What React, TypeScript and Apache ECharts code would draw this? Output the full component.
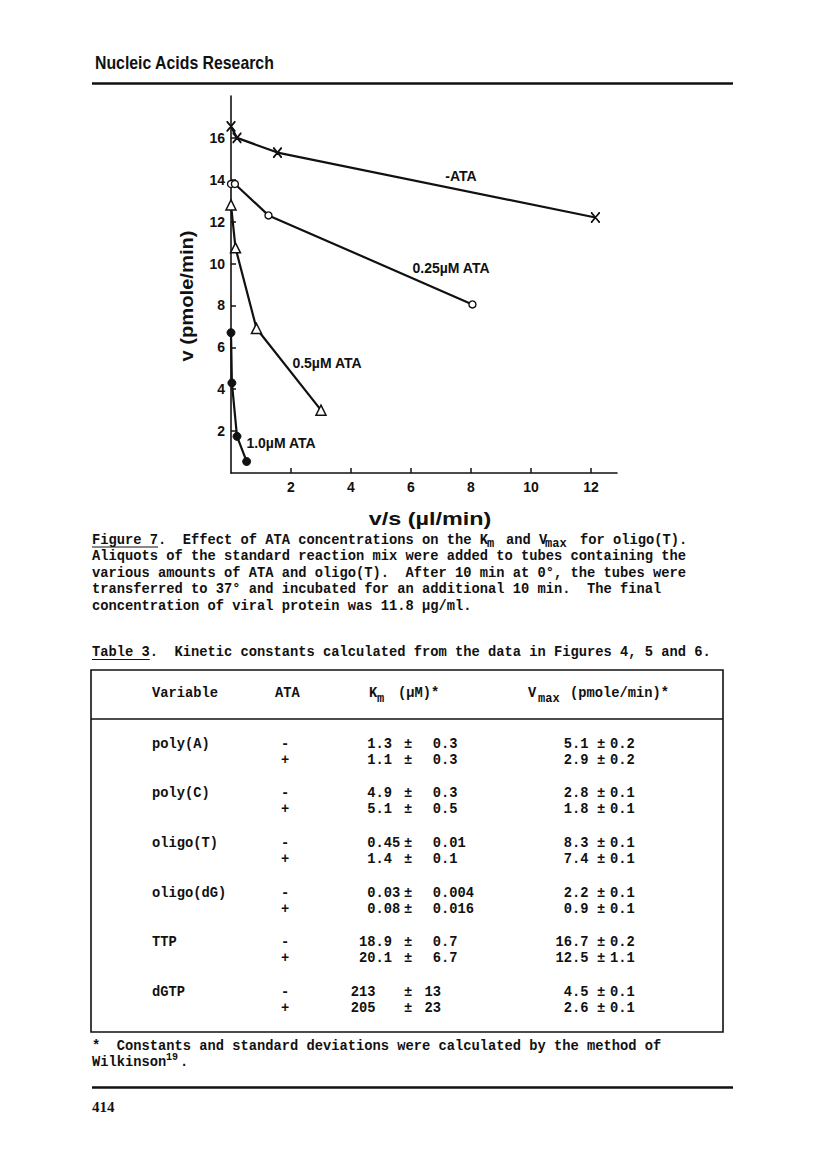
import React, { useEffect, useRef } from "react";
import * as echarts from "echarts";

// ---------- Figure 7 data (x = v/s in µl/min, y = v in pmole/min) ----------
const minusAta: number[][] = [[0.0, 16.55], [0.2, 16.0], [1.55, 15.3], [12.15, 12.2]];
const ata025: number[][] = [[0.0, 13.8], [0.13, 13.8], [1.25, 12.3], [8.05, 8.05]];
const ata05: number[][] = [[0.0, 12.8], [0.15, 10.75], [0.85, 6.9], [3.0, 3.0]];
const ata10: number[][] = [[0.0, 6.7], [0.03, 4.3], [0.2, 1.75], [0.52, 0.55]];

const xTicks = [2, 4, 6, 8, 10, 12];
const yTicks = [2, 4, 6, 8, 10, 12, 14, 16];

const seriesLabels = ["-ATA", "0.25µM ATA", "0.5µM ATA", "1.0µM ATA"];

// ---------- Table 3 data ----------
const variables = ["poly(A)", "poly(C)", "oligo(T)", "oligo(dG)", "TTP", "dGTP"];
const kmMinus = ["1.3", "4.9", "0.45", "0.03", "18.9", "213"];
const kmMinusErr = ["0.3", "0.3", "0.01", "0.004", "0.7", "13"];
const kmPlus = ["1.1", "5.1", "1.4", "0.08", "20.1", "205"];
const kmPlusErr = ["0.3", "0.5", "0.1", "0.016", "6.7", "23"];
const vmaxMinus = ["5.1", "2.8", "8.3", "2.2", "16.7", "4.5"];
const vmaxMinusErr = ["0.2", "0.1", "0.1", "0.1", "0.2", "0.1"];
const vmaxPlus = ["2.9", "1.8", "7.4", "0.9", "12.5", "2.6"];
const vmaxPlusErr = ["0.2", "0.1", "0.1", "0.1", "1.1", "0.1"];

const captionLines = [
  "Aliquots of the standard reaction mix were added to tubes containing the",
  "various amounts of ATA and oligo(T).  After 10 min at 0°, the tubes were",
  "transferred to 37° and incubated for an additional 10 min.  The final",
  "concentration of viral protein was 11.8 µg/ml.",
];

const MONO = '"Liberation Mono", "DejaVu Sans Mono", monospace';
const SANS = '"Liberation Sans", Arial, sans-serif';
const SERIF = '"Liberation Serif", serif';
const FS = 13.75;
const CW = FS * 0.6;

function txt(x: number, y: number, text: string, o: any = {}) {
  return {
    type: "text",
    x,
    y,
    rotation: o.rotation || 0,
    scaleX: o.scaleX || 1,
    scaleY: o.scaleY || 1,
    silent: true,
    style: {
      text,
      fill: "#111",
      fontFamily: o.family || MONO,
      fontSize: o.size || FS,
      fontWeight: o.weight || "bold",
      align: o.align || "left",
      verticalAlign: "middle",
    },
  };
}

function hline(x1: number, x2: number, y: number, w: number) {
  return {
    type: "line",
    silent: true,
    shape: { x1, y1: y, x2, y2: y },
    style: { stroke: "#111", lineWidth: w },
  };
}

function decX(s: string, decimalCellX: number) {
  const i = s.indexOf(".");
  const d = i < 0 ? s.length : i;
  return decimalCellX - d * CW;
}

export default function App() {
  const ref = useRef<HTMLDivElement>(null);

  useEffect(() => {
    if (!ref.current) return;
    const chart = echarts.init(ref.current, null, { renderer: "svg" });

    const g: any[] = [];
    // page header
    g.push(txt(95, 63, "Nucleic Acids Research", { family: SANS, size: 18, scaleX: 0.88 }));
    g.push(hline(92, 733, 83.5, 2.5));

    // axis names
    g.push(txt(187, 296, "v (pmole/min)", { family: SANS, size: 18, rotation: Math.PI / 2, align: "center", scaleX: 1.12 }));
    g.push(txt(430, 519, "v/s (µl/min)", { family: SANS, size: 18, align: "center", scaleX: 1.3 }));

    // series labels
    g.push(txt(461, 176, seriesLabels[0], { family: SANS, size: 14, align: "center" }));
    g.push(txt(451, 268, seriesLabels[1], { family: SANS, size: 14, align: "center" }));
    g.push(txt(327, 363, seriesLabels[2], { family: SANS, size: 14, align: "center" }));
    g.push(txt(281, 443, seriesLabels[3], { family: SANS, size: 14, align: "center" }));

    // caption
    const cy0 = 540;
    g.push(txt(92, cy0, "Figure 7.  Effect of ATA concentrations on the K"));
    g.push(txt(487, cy0 + 4, "m", { size: 12 }));
    g.push(txt(506, cy0, "and V"));
    g.push(txt(545, cy0 + 4, "max", { size: 12 }));
    g.push(txt(580, cy0, "for oligo(T)."));
    g.push(hline(92, 92 + 8 * CW, 547, 1.2));
    captionLines.forEach((l, i) => g.push(txt(92, cy0 + 16.5 * (i + 1), l)));

    // table title
    g.push(txt(92, 652, "Table 3.  Kinetic constants calculated from the data in Figures 4, 5 and 6."));
    g.push(hline(92, 92 + 7 * CW, 659.5, 1.2));

    // table frame
    g.push({
      type: "rect",
      silent: true,
      shape: { x: 91, y: 670, width: 632, height: 362 },
      style: { fill: "none", stroke: "#111", lineWidth: 1.6 },
    });
    g.push(hline(91, 723, 719, 1.4));

    // table header
    g.push(txt(152, 693, "Variable"));
    g.push(txt(275, 693, "ATA"));
    g.push(txt(369, 693, "K"));
    g.push(txt(377, 699, "m", { size: 12 }));
    g.push(txt(398, 693, "(µM)*"));
    g.push(txt(528, 693, "V"));
    g.push(txt(538, 699, "max", { size: 12 }));
    g.push(txt(570, 693, "(pmole/min)*"));

    // table rows
    const rowY = [744, 793, 843, 893, 942, 992];
    variables.forEach((v, i) => {
      const y1 = rowY[i];
      const y2 = y1 + 16.5;
      g.push(txt(152, y1, v));
      g.push(txt(285, y1, "-", { align: "center" }));
      g.push(txt(285, y2, "+", { align: "center" }));
      const rows = [
        [y1, kmMinus[i], kmMinusErr[i], vmaxMinus[i], vmaxMinusErr[i]],
        [y2, kmPlus[i], kmPlusErr[i], vmaxPlus[i], vmaxPlusErr[i]],
      ] as any[];
      rows.forEach(([y, km, kmE, vm, vmE]) => {
        g.push(txt(decX(km, 375.5), y, km));
        g.push(txt(408, y, "±", { align: "center" }));
        g.push(txt(decX(kmE, 441), y, kmE));
        g.push(txt(decX(vm, 572), y, vm));
        g.push(txt(601, y, "±", { align: "center" }));
        g.push(txt(610, y, vmE));
      });
    });

    // footnote
    g.push(txt(92, 1046, "*  Constants and standard deviations were calculated by the method of"));
    g.push(txt(92, 1062, "Wilkinson"));
    g.push(txt(166, 1057, "19", { size: 10 }));
    g.push(txt(180, 1062, "."));
    g.push(hline(92, 733, 1087.5, 2.5));
    g.push(txt(92, 1107, "414", { family: SERIF, size: 15 }));

    const lineStyle = { color: "#111", width: 2.2 };
    const axisCommon = {
      type: "value" as const,
      min: 0,
      splitLine: { show: false },
      axisLine: { show: true, onZero: false, lineStyle: { color: "#111", width: 1.6 } },
      axisTick: { show: true, inside: true, length: 5, lineStyle: { color: "#111", width: 1.5 } },
    };

    chart.setOption({
      animation: false,
      backgroundColor: "#fff",
      grid: { left: 231, top: 96, width: 386, height: 377, containLabel: false },
      xAxis: {
        ...axisCommon,
        max: 12.87,
        interval: 2,
        axisTick: { ...axisCommon.axisTick, customValues: xTicks },
        axisLabel: {
          customValues: xTicks,
          margin: 7,
          color: "#111",
          fontFamily: SANS,
          fontWeight: "bold",
          fontSize: 14,
          formatter: (v: number) => (xTicks.includes(v) ? String(v) : ""),
        },
      },
      yAxis: {
        ...axisCommon,
        max: 18,
        interval: 2,
        axisTick: { ...axisCommon.axisTick, customValues: yTicks },
        axisLabel: {
          customValues: yTicks,
          margin: 6,
          color: "#111",
          fontFamily: SANS,
          fontWeight: "bold",
          fontSize: 14,
          formatter: (v: number) => (yTicks.includes(v) ? String(v) : ""),
        },
      },
      series: [
        {
          type: "line",
          data: minusAta,
          symbol: "path://M0,0L10,10M10,0L0,10M-1,0L1,0M9,0L11,0M-1,10L1,10M9,10L11,10",
          symbolSize: 9,
          lineStyle,
          itemStyle: { color: "#111", borderColor: "#111", borderWidth: 1.8 },
        },
        {
          type: "line",
          data: ata025,
          symbol: "circle",
          symbolSize: 7,
          lineStyle,
          itemStyle: { color: "#fff", borderColor: "#111", borderWidth: 1.4 },
        },
        {
          type: "line",
          data: ata05,
          symbol: "triangle",
          symbolSize: 10,
          lineStyle,
          itemStyle: { color: "#fff", borderColor: "#111", borderWidth: 1.5 },
        },
        {
          type: "line",
          data: ata10,
          symbol: "circle",
          symbolSize: 8,
          lineStyle,
          itemStyle: { color: "#111", borderColor: "#111", borderWidth: 1 },
        },
      ],
      graphic: g,
    });

    return () => chart.dispose();
  }, []);

  return (
    <div
      ref={ref}
      style={{ position: "absolute", left: 0, top: 0, width: 816, height: 1155, background: "#fff" }}
    />
  );
}
